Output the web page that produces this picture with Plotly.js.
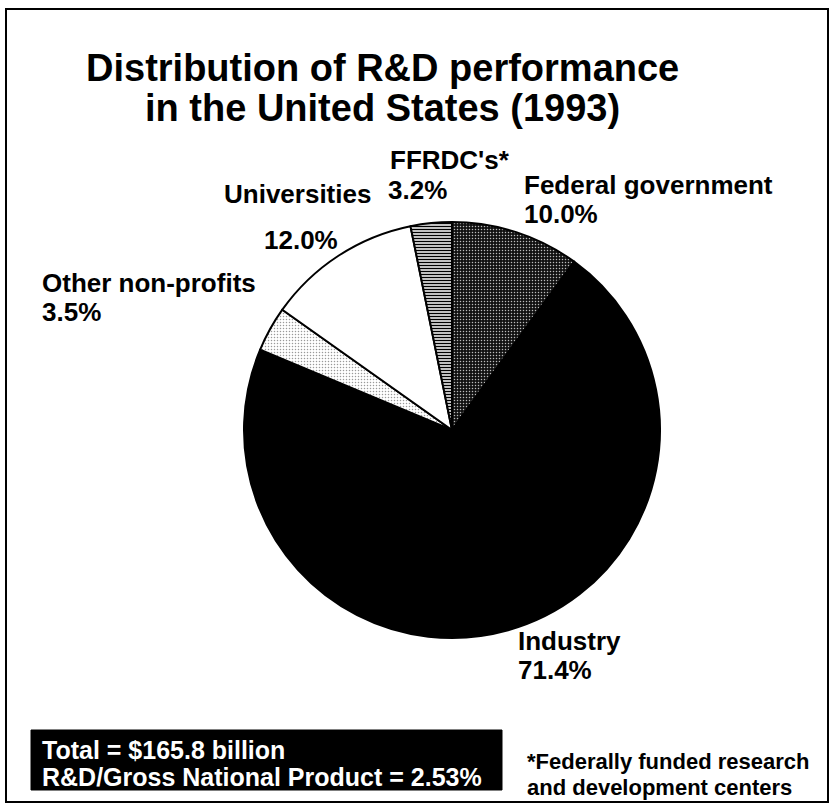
<!DOCTYPE html>
<html>
<head>
<meta charset="utf-8">
<script src="https://cdn.plot.ly/plotly-3.0.1.min.js"></script>
<style>html,body{margin:0;padding:0;background:#fff;overflow:hidden;}#chart{width:834px;height:812px;}</style>
</head>
<body>
<div id="chart"></div>
<script>
// Data
const sectors = ["Federal government", "Industry", "Other non-profits", "Universities", "FFRDC's*"];
const shares = [10.0, 71.4, 3.5, 12.0, 3.2];
const shareLabels = ["10.0%", "71.4%", "3.5%", "12.0%", "3.2%"];
const titleLines = ["Distribution of R&D performance", "in the United States (1993)"];
const summaryLines = ["Total = $165.8 billion", "R&D/Gross National Product = 2.53%"];
const footnoteLines = ["*Federally funded research", "and development centers"];

const W = 834, H = 812;
const px = x => x / W;
const py = y => 1 - y / H;
const FONT = "Liberation Sans, Arial, Helvetica, sans-serif";

const labelPos = [
  {x: 522, yName: 185, yVal: 214},
  {x: 516, yName: 641, yVal: 670},
  {x: 40,  yName: 283, yVal: 312},
  {x: 222, yName: 194, yVal: 240, xVal: 262},
  {x: 388, yName: 160, yVal: 190, xVal: 386}
];

const annotations = [];
sectors.forEach((s, i) => {
  const p = labelPos[i];
  annotations.push({text: s, xref: 'paper', yref: 'paper', x: px(p.x), y: py(p.yName),
    xanchor: 'left', yanchor: 'middle', showarrow: false,
    font: {family: FONT, size: 26, color: '#000', weight: 'bold'}});
  annotations.push({text: shareLabels[i], xref: 'paper', yref: 'paper', x: px(p.xVal || p.x), y: py(p.yVal),
    xanchor: 'left', yanchor: 'middle', showarrow: false,
    font: {family: FONT, size: 26, color: '#000', weight: 'bold'}});
});
summaryLines.forEach((t, i) => {
  annotations.push({text: t, xref: 'paper', yref: 'paper', x: px(40), y: py(750 + i * 27),
    xanchor: 'left', yanchor: 'middle', showarrow: false,
    font: {family: FONT, size: 25, color: '#fff', weight: 'bold'}});
});
footnoteLines.forEach((t, i) => {
  annotations.push({text: t, xref: 'paper', yref: 'paper', x: px(525), y: py(761 + i * 26),
    xanchor: 'left', yanchor: 'middle', showarrow: false,
    font: {family: FONT, size: 22, color: '#000', weight: 'bold'}});
});
titleLines.forEach((t, i) => {
  annotations.push({text: t, xref: 'paper', yref: 'paper', x: px(382), y: py(68 + i * 40),
    xanchor: 'center', yanchor: 'middle', showarrow: false,
    font: {family: FONT, size: 38, color: '#000', weight: 'bold'}});
});

const trace = {
  type: 'pie',
  labels: sectors,
  values: shares,
  sort: false,
  direction: 'clockwise',
  rotation: 0,
  textinfo: 'none',
  hoverinfo: 'label+percent',
  domain: {x: [px(244), px(660)], y: [py(638), py(222)]},
  marker: {
    colors: ['#333333', '#000000', '#eeeeee', '#ffffff', '#9a9a9a'],
    line: {color: '#000', width: 2},
    pattern: {
      shape: ['.', '', '.', '', '-'],
      fgcolor: ['#bbbbbb', '#000', '#999999', '#000', '#000000'],
      bgcolor: ['#111111', '#000', '#ffffff', '#fff', '#ffffff'],
      size: [3, 8, 3, 8, 3],
      solidity: [0.2, 0.3, 0.2, 0.3, 0.5],
      fillmode: 'replace'
    }
  }
};

const layout = {
  width: W, height: H,
  margin: {l: 0, r: 0, t: 0, b: 0},
  paper_bgcolor: '#fff',
  showlegend: false,
  annotations: annotations,
  shapes: [
    {type: 'rect', xref: 'paper', yref: 'paper', x0: px(31), x1: px(502), y0: py(790), y1: py(730),
      line: {color: '#000', width: 1}, fillcolor: '#000', layer: 'below'},
    {type: 'rect', xref: 'paper', yref: 'paper', x0: px(6), x1: px(828), y0: py(802), y1: py(9),
      line: {color: '#000', width: 2}, fillcolor: 'rgba(0,0,0,0)', layer: 'above'}
  ]
};

Plotly.newPlot('chart', [trace], layout, {displayModeBar: false, staticPlot: true});
</script>
</body>
</html>
